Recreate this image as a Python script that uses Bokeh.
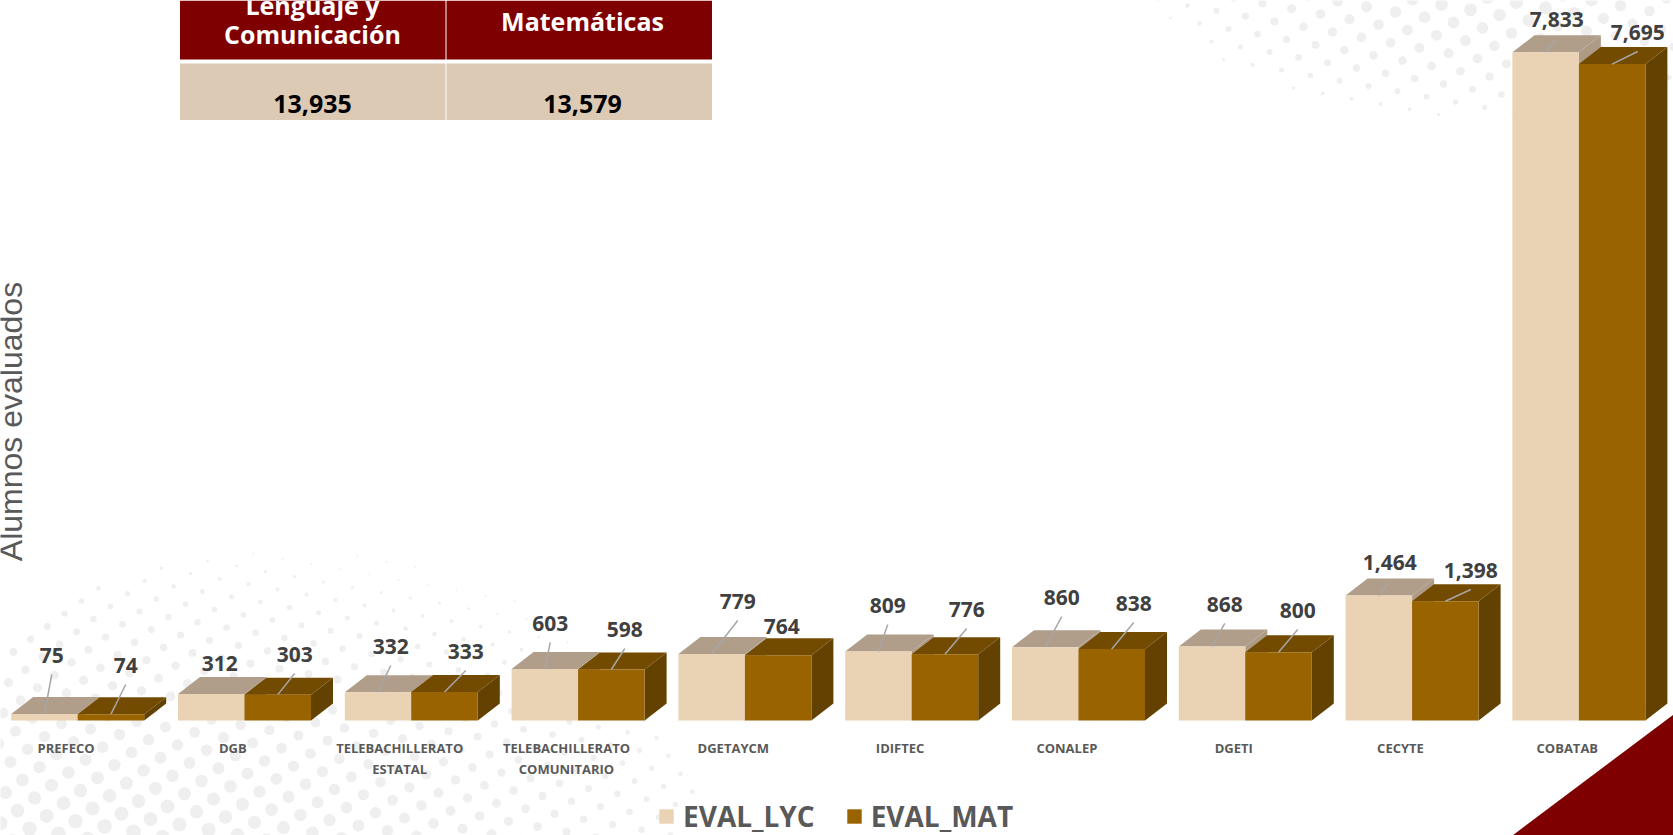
import numpy as np
from bokeh.core.properties import value
from bokeh.embed import file_html
from bokeh.models import FixedTicker, Label, Legend, LegendItem, LinearAxis, Range1d
from bokeh.plotting import figure
from bokeh.resources import INLINE

# ---- data ----
categories = ["PREFECO", "DGB", "TELEBACHILLERATO\nESTATAL", "TELEBACHILLERATO\nCOMUNITARIO",
              "DGETAYCM", "IDIFTEC", "CONALEP", "DGETI", "CECYTE", "COBATAB"]
eval_lyc = [75, 312, 332, 603, 779, 809, 860, 868, 1464, 7833]
eval_mat = [74, 303, 333, 598, 764, 776, 838, 800, 1398, 7695]
table_heads = ["Lenguaje y\nComunicación", "Matemáticas"]
table_totals = ["13,935", "13,579"]
series_names = ["EVAL_LYC", "EVAL_MAT"]
y_title = "Alumnos evaluados"

# ---- label placement (pixels, from the top centre of each bar's front face) ----
lyc_dx = [7.3, 8.5, 12.7, 5.4, 26.1, 9.3, 16.5, 12.7, 10.9, 11.1]
lyc_dy = [-58.6, -30.4, -45.7, -45.6, -52.5, -46, -49.6, -42, -33, -33]
lyc_leader = [1, 0, 1, 1, 1, 1, 1, 1, 1, 1]
mat_dx = [14.8, 17, 21.2, 13.4, 3.6, 21.8, 22, 19.2, 25.4, 25.6]
mat_dy = [-48.7, -40.2, -40.6, -40, -28.8, -44.8, -45.5, -41.8, -30.7, -31.6]
mat_leader = [1, 1, 1, 1, 0, 1, 1, 1, 1, 1]

# ---- geometry ----
W, H = 1673, 835
BASE_PX = 720.0
PX_PER_UNIT = 0.0853
PITCH = 166.8
FIRST_CENTER = 77.2
BAR = 66.5 / PITCH
DEPTH_X = 22 / PITCH
DEPTH_Y = 17 / PX_PER_UNIT

x_start = -FIRST_CENTER / PITCH
x_end = (W - FIRST_CENTER) / PITCH
y_end = BASE_PX / PX_PER_UNIT
y_start = -(H - BASE_PX) / PX_PER_UNIT


def dx(px):
    return np.asarray(px, dtype=float) / PITCH


def dy(px):
    return -np.asarray(px, dtype=float) / PX_PER_UNIT


def X(px):
    return x_start + np.asarray(px, dtype=float) / PITCH


def Y(px):
    return y_end - np.asarray(px, dtype=float) / PX_PER_UNIT


p = figure(width=W, height=H, output_backend="svg", toolbar_location=None,
           x_range=Range1d(x_start, x_end), y_range=Range1d(y_start, y_end),
           min_border=0, outline_line_color=None, background_fill_color="white",
           margin=(0, 0, 0, 0))
p.xaxis.visible = False
p.yaxis.visible = False
p.grid.visible = False


# ---- decorative halftone background ----
def dots(origin, region, sizing, big, power):
    xs, ys, ss = [], [], []
    for i in range(-40, 70):
        for j in range(-40, 60):
            px = origin[0] + 29 * i + 12 * j
            py = origin[1] + 5.3 * i + 18 * j
            if not (-10 < px < W + 10 and -10 < py < H + 10):
                continue
            if region(px, py) < 1:
                xs.append(px)
                ys.append(py)
                ss.append(2 + big * max(0.0, 1 - sizing(px, py)) ** power)
    return X(xs), Y(ys), ss


bx, by, bs = dots((20, 700),
                  lambda a, b: np.hypot((a - 290) / 430, (b - 890) / 340),
                  lambda a, b: np.hypot((a - 100) / 700, (b - 900) / 350), 15, 0.75)
p.scatter(bx, by, size=bs, marker="circle", fill_color="#EFEFEF", line_color=None)
tx, ty, ts = dots((1187, 5),
                  lambda a, b: np.hypot((a - 1500) / 350, (b + 30) / 150),
                  lambda a, b: np.hypot((a - 1500) / 350, (b + 30) / 150), 13, 0.6)
p.scatter(tx, ty, size=ts, marker="circle", fill_color="#EFEFEF", line_color=None)

groups = np.arange(len(categories), dtype=float)


def bar3d(left, vals, top_col, side_col, front_col):
    vals = np.asarray(vals, dtype=float)
    right = left + BAR
    p.patches([[r, r + DEPTH_X, r + DEPTH_X, r] for r in right],
              [[0, DEPTH_Y, v + DEPTH_Y, v] for v in vals],
              fill_color=side_col, line_color=None)
    p.patches([[l, r, r + DEPTH_X, l + DEPTH_X] for l, r in zip(left, right)],
              [[v, v, v + DEPTH_Y, v + DEPTH_Y] for v in vals],
              fill_color=top_col, line_color=None)
    return p.quad(left=left, right=right, bottom=0, top=vals, fill_color=front_col, line_color=None)


r_lyc = bar3d(groups - BAR, eval_lyc, "#B09E8A", "#AD9B86", "#EAD2B4")
r_mat = bar3d(groups, eval_mat, "#734B00", "#634100", "#996400")


def data_labels(cx, vals, ox, oy, leader):
    vals = np.asarray(vals, dtype=float)
    lx = cx + dx(ox)
    ly = vals + dy(oy)
    keep = np.asarray(leader) == 1
    p.segment(cx[keep], vals[keep], lx[keep], ly[keep] + dy(19),
              line_color="#A6A6A6", line_width=1.5)
    p.text(lx, ly, text=[f"{int(v):,}" for v in vals], text_align="center", text_baseline="middle",
           text_font=value("Open Sans"), text_font_style="bold", text_font_size="21px",
           text_color="#404040")


data_labels(groups - BAR / 2, eval_lyc, lyc_dx, lyc_dy, lyc_leader)
data_labels(groups + BAR / 2, eval_mat, mat_dx, mat_dy, mat_leader)

# ---- category axis drawn inside the frame ----
axis = LinearAxis(fixed_location=0, ticker=FixedTicker(ticks=list(groups - 11.6 / PITCH)))
axis.major_label_overrides = {float(g - 11.6 / PITCH): c for g, c in zip(groups, categories)}
axis.major_label_text_font = "Open Sans"
axis.major_label_text_font_style = "bold"
axis.major_label_text_font_size = "13px"
axis.major_label_text_color = "#595959"
axis.major_label_standoff = 12
axis.axis_line_color = None
axis.major_tick_line_color = None
axis.minor_tick_line_color = None
p.add_layout(axis, "below")

# ---- summary table ----
cell_l = [179.5, 446]
cell_r = [445, 711.5]
p.quad(left=X(cell_l), right=X(cell_r), top=Y([0, 0]), bottom=Y([59, 59]), fill_color="#7F0000", line_color=None)
p.quad(left=X(cell_l), right=X(cell_r), top=Y([63, 63]), bottom=Y([119.5, 119.5]), fill_color="#DCCAB5", line_color=None)
p.text(X([312, 312]), Y([4, 33]), text=table_heads[0].split("\n"), text_align="center", text_baseline="middle",
       text_font=value("Open Sans"), text_font_style="bold", text_font_size="25px", text_color="white")
p.text(X([582]), Y([20]), text=[table_heads[1]], text_align="center", text_baseline="middle",
       text_font=value("Open Sans"), text_font_style="bold", text_font_size="25px", text_color="white")
p.text(X([312, 582]), Y([103, 103]), text=table_totals, text_align="center", text_baseline="middle",
       text_font=value("Open Sans"), text_font_style="bold", text_font_size="25px", text_color="#000000")

# ---- corner triangle ----
p.patch(X([1512, 1673, 1673]), Y([835, 714, 835]), fill_color="#7F0000", line_color=None)

# ---- legend ----
legend = Legend(items=[LegendItem(label=series_names[0], renderers=[r_lyc]),
                       LegendItem(label=series_names[1], renderers=[r_mat])],
                location=(657, 0), orientation="horizontal", background_fill_alpha=0, border_line_color=None,
                glyph_width=18, glyph_height=18, label_standoff=8, spacing=30, padding=0, margin=0,
                label_text_font="Open Sans", label_text_font_style="bold", label_text_font_size="28px",
                label_text_color="#595959", label_height=18)
p.add_layout(legend, "center")

# ---- rotated axis title ----
p.add_layout(Label(x=10, y=H - 421, x_units="screen", y_units="screen", text=y_title, angle=np.pi / 2,
                   text_align="center", text_baseline="alphabetic", text_font="Liberation Sans",
                   text_font_size="32px", text_color="#595959"))

open("out.html", "w").write(file_html(p, INLINE))
